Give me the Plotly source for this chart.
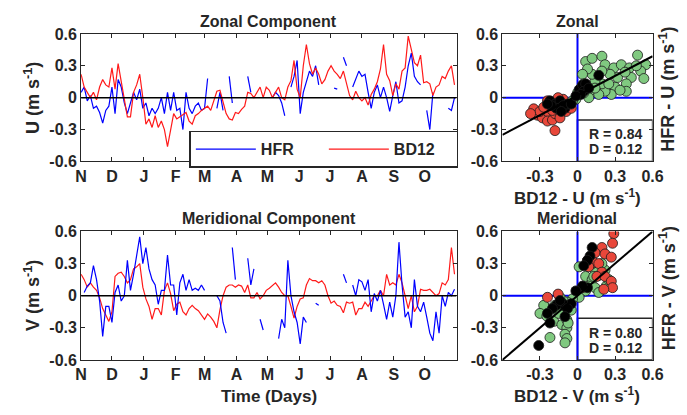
import plotly.graph_objects as go

W, H = 687, 415

# ---------------- data ----------------
DAYS = list(range(0, 366, 3))  # sampling days since 1 Nov

BD12_U = [0.22, 0.10, 0.05, 0.0, 0.05, -0.02, 0.10, 0.17, 0.12, 0.10, 0.28, 0.08, 0.32, 0.15, -0.05, -0.18, -0.18, 0.05, 0.12, 0.22, 0.0,
          -0.25, -0.2, -0.28, -0.17, -0.28, -0.22, -0.3, -0.46, -0.3, -0.15, -0.2, -0.18, -0.16, -0.14, -0.22, -0.25, -0.17, -0.15, -0.12, -0.1,
          -0.08, -0.12, -0.02, 0.06, 0.07, -0.05, -0.15, -0.2, -0.21, -0.14, -0.15, -0.11, -0.08, 0.05, 0.04, 0.0, 0.05, 0.1, 0.0, 0.1,
          0.07, 0.0, 0.05, 0.1, 0.0, -0.02, 0.1, 0.16, 0.35, 0.08, 0.0, 0.3, 0.5, 0.32, 0.22, 0.28, 0.22, 0.13, 0.17, 0.25, 0.3,
          0.25, 0.22, 0.18, 0.25, 0.12, 0.02, -0.02, 0.06, 0.0, -0.03, 0.0, -0.07, 0.03, 0.08, 0.15, 0.27, 0.5, 0.22, 0.16, 0.02,
          0.13, 0.08, 0.25, 0.28, 0.58, 0.45, 0.33, 0.3, 0.4, 0.14, 0.15, 0.13, 0.02, 0.1, 0.12, 0.2, 0.18, 0.25, 0.3, 0.12]

HFR_U = [0.05, 0.1, -0.03, 0.02, -0.1, -0.08, -0.14, -0.24, -0.12, -0.08, 0.1, -0.15, 0.17, 0.1, -0.05, -0.15, -0.05, 0.05, -0.02, 0.08, -0.1,
         -0.05, -0.17, -0.1, -0.15, -0.1, 0.0, -0.15, 0.05, -0.12, 0.05, -0.12, -0.1, -0.3, 0.05, -0.1, -0.15, -0.08, -0.05, -0.12, -0.1,
         0.18, None, None, -0.1, 0.05, -0.12, None, 0.2, -0.05, None, None, None, None, 0.2, 0.05, None, None, None, None, None,
         None, 0.0, 0.05, 0.02, -0.05, -0.17, None, 0.1, 0.2, 0.35, -0.15, 0.05, 0.15, 0.25, 0.2, 0.3, 0.12, None, None, None, None,
         0.09, 0.08, None, 0.38, 0.3, None, 0.1, 0.18, 0.25, 0.2, 0.22, 0.05, -0.1, 0.05, 0.12, 0.0, 0.1, 0.0, -0.13, 0.02,
         0.15, -0.05, -0.03, 0.1, 0.3, 0.42, 0.2, 0.15, 0.12, None, -0.12, -0.3, 0.05, None, None, None, None, -0.1, -0.12, 0.0]

BD12_V = [0.2, 0.15, 0.08, 0.12, 0.08, 0.05, -0.02, -0.12, -0.18, -0.24, -0.15, 0.18, 0.21, 0.22, 0.18, 0.12, 0.15, 0.25, 0.27, 0.3, 0.08,
          -0.03, -0.1, -0.22, -0.12, -0.12, -0.18, 0.05, 0.12, 0.02, -0.14, -0.08, -0.06, -0.15, -0.18, -0.12, -0.09, -0.12, -0.14, -0.18, -0.22,
          -0.17, -0.2, -0.24, -0.3, -0.13, 0.0, 0.08, 0.1, 0.1, 0.08, 0.1, 0.09, 0.03, 0.1, -0.02, -0.02, 0.03, -0.03, 0.0, 0.05,
          0.07, 0.1, 0.12, 0.08, 0.03, 0.0, 0.0, -0.1, -0.21, -0.1, -0.03, -0.02, 0.1, 0.16, 0.14, 0.14, 0.12, 0.14, 0.1, 0.0, -0.07,
          -0.05, -0.09, -0.1, -0.16, -0.06, -0.07, -0.06, -0.18, -0.12, -0.12, -0.06, -0.1, -0.05, 0.0, 0.0, 0.05, 0.0, 0.2, 0.1, 0.12,
          0.1, 0.2, 0.12, 0.0, -0.12, 0.0, -0.15, -0.1, 0.06, 0.05, 0.05, 0.06, 0.03, 0.0, 0.02, 0.12, 0.1, 0.15, 0.45, 0.2]

HFR_V = [None, 0.03, 0.09, 0.12, 0.28, 0.15, -0.05, -0.38, -0.1, -0.1, -0.25, 0.03, 0.1, -0.05, 0.0, 0.33, 0.05, 0.2, 0.38, 0.55, 0.3,
         0.45, 0.25, 0.15, 0.1, -0.08, 0.05, 0.05, 0.38, 0.1, 0.1, -0.18, 0.12, 0.2, 0.05, 0.15, 0.05, 0.07, 0.05, 0.1, 0.05,
         None, None, None, 0.0, -0.05, -0.25, -0.35, None, 0.45, 0.15, None, None, None, 0.35, 0.1, 0.25, None, -0.22, -0.32, None,
         None, None, None, -0.4, -0.22, -0.3, 0.33, 0.0, -0.15, -0.25, -0.45, -0.2, -0.25, None, None, -0.07, -0.09, None, None, None, None,
         None, None, None, 0.2, 0.12, None, 0.1, 0.0, 0.15, 0.13, 0.05, 0.15, -0.15, 0.02, -0.05, 0.05, -0.08, -0.22, -0.06, -0.2,
         0.0, 0.5, 0.1, -0.2, -0.15, -0.3, 0.15, -0.1, -0.15, -0.06, -0.2, -0.35, -0.42, -0.15, -0.35, 0.0, -0.1, 0.03, 0.0, 0.06]

MONTH_DAYS = [0, 30, 61, 92, 120, 151, 181, 212, 242, 273, 304, 334]
MONTH_LABELS = ["N", "D", "J", "F", "M", "A", "M", "J", "J", "A", "S", "O"]

# Zonal scatter (BD12 U, HFR U)
ZU_GREEN_X = [0.065, 0.117, 0.195, 0.22, 0.29, 0.35, 0.415, 0.48, 0.545, 0.505, 0.53, 0.43, 0.39, 0.30, 0.27, 0.22, 0.195, 0.14, 0.117,
              0.08, 0.04, 0.05, 0.026, 0.0, -0.013, -0.04, 0.10, 0.17, 0.14, 0.25, 0.32, 0.38, 0.26, 0.47, 0.09, 0.05, 0.39, 0.195, 0.34]
ZU_GREEN_Y = [0.34, 0.37, 0.39, 0.31, 0.28, 0.31, 0.28, 0.40, 0.31, 0.25, 0.18, 0.19, 0.13, 0.10, 0.03, 0.06, 0.13, 0.16, 0.22,
              0.27, 0.22, 0.13, 0.09, 0.045, -0.015, -0.03, 0.06, 0.03, 0.09, 0.13, 0.19, 0.24, 0.22, 0.30, 0.0, 0.045, 0.06, 0.25, 0.07]
ZU_RED_X = [-0.35, -0.32, -0.28, -0.24, -0.24, -0.20, -0.18, -0.22, -0.17, -0.13, -0.09, -0.08, -0.115, -0.24, -0.30, -0.18, -0.14,
            -0.20, -0.27, -0.05, -0.155, -0.375]
ZU_RED_Y = [-0.105, -0.165, -0.19, -0.13, -0.22, -0.21, -0.31, -0.07, -0.04, -0.07, -0.13, -0.06, -0.015, -0.03, -0.13, -0.15, -0.19,
            -0.12, -0.09, -0.10, 0.0, -0.15]
ZU_BLACK_X = [-0.22, -0.18, -0.14, -0.10, -0.08, -0.115, -0.05, -0.17, -0.21, 0.013, 0.04, 0.065, 0.05, 0.09, 0.17, 0.026, -0.013, -0.13, -0.24]
ZU_BLACK_Y = [-0.03, -0.06, -0.03, -0.10, -0.06, -0.075, -0.06, -0.10, -0.075, 0.075, 0.12, 0.13, 0.06, 0.09, 0.21, 0.03, 0.015, -0.13, -0.06]
ZU_FIT_X = [-0.6, 0.6]
ZU_FIT_Y = [-0.35, 0.39]

# Meridional scatter (BD12 V, HFR V)
MV_GREEN_X = [0.013, 0.065, 0.117, 0.17, 0.22, 0.195, 0.09, 0.14, 0.23, 0.17, 0.065, 0.013, -0.04, -0.08, -0.115, -0.14, -0.18, -0.24,
              -0.27, -0.30, -0.245, -0.19, -0.22, -0.125, -0.085, -0.085, -0.10, -0.085, -0.10, -0.075, -0.05, -0.125, -0.15, 0.14, 0.12, 0.25, 0.13]
MV_GREEN_Y = [0.27, 0.18, 0.15, 0.19, 0.24, 0.30, 0.09, 0.075, 0.09, 0.03, 0.045, -0.015, -0.03, -0.06, -0.045, -0.015, -0.09, -0.12,
              -0.09, -0.165, -0.19, -0.24, -0.39, -0.27, -0.225, -0.30, -0.36, -0.40, -0.44, -0.255, -0.135, -0.135, -0.165, 0.24, 0.30, 0.15, 0.18]
MV_RED_X = [0.29, 0.28, 0.195, 0.14, 0.22, 0.27, 0.08, 0.13, 0.17, 0.195, 0.155, 0.22, 0.27, 0.28, 0.21, 0.09, -0.155, -0.24, 0.04]
MV_RED_Y = [0.58, 0.49, 0.45, 0.40, 0.39, 0.36, 0.33, 0.31, 0.30, 0.22, 0.18, 0.18, 0.135, 0.075, 0.06, 0.27, 0.015, -0.015, 0.075]
MV_BLACK_X = [0.117, 0.10, 0.08, 0.05, 0.08, 0.04, -0.013, -0.05, -0.115, -0.17, -0.20, -0.24, -0.22, -0.08, -0.10, -0.31, -0.14]
MV_BLACK_Y = [0.45, 0.37, 0.33, 0.28, 0.075, 0.09, 0.045, -0.075, -0.075, -0.09, -0.12, -0.165, -0.255, -0.12, -0.195, -0.465, -0.045]
MV_FIT_X = [-0.6, 0.6]
MV_FIT_Y = [-0.6, 0.6]

STATS_U = ["R = 0.84", "D = 0.12"]
STATS_V = ["R = 0.80", "D = 0.12"]

# ---------------- styling ----------------
TXT = "#262626"
FONT = "Liberation Sans, Arial, sans-serif"
BLUE = "#0000FF"
RED = "#FF1A1A"
SC_RED = "#E8473A"
SC_GREEN = "#80C980"


def fx(p):
    return p / W


def fy(p):
    return 1 - p / H


L0, L1 = 77, 462
R0, R1 = 509, 663
T0, T1 = 27, 160
B0, B1 = 233, 367

fig = go.Figure()

# time series, top (U)
fig.add_trace(go.Scatter(x=DAYS, y=HFR_U, mode="lines", name="HFR", line=dict(color=BLUE, width=1.2),
                         connectgaps=False, xaxis="x", yaxis="y"))
fig.add_trace(go.Scatter(x=DAYS, y=BD12_U, mode="lines", name="BD12", line=dict(color=RED, width=1.2),
                         xaxis="x", yaxis="y"))
# time series, bottom (V)
fig.add_trace(go.Scatter(x=DAYS, y=BD12_V, mode="lines", name="BD12", line=dict(color=RED, width=1.2),
                         showlegend=False, xaxis="x3", yaxis="y3"))
fig.add_trace(go.Scatter(x=DAYS, y=HFR_V, mode="lines", name="HFR", line=dict(color=BLUE, width=1.2),
                         connectgaps=False, showlegend=False, xaxis="x3", yaxis="y3"))

mk = dict(size=10, line=dict(color="#1a1a1a", width=0.8))
for xs, ys, col, xa, ya in [
    (ZU_RED_X, ZU_RED_Y, SC_RED, "x2", "y2"),
    (ZU_GREEN_X, ZU_GREEN_Y, SC_GREEN, "x2", "y2"),
    (ZU_BLACK_X, ZU_BLACK_Y, "#000000", "x2", "y2"),
    (MV_GREEN_X, MV_GREEN_Y, SC_GREEN, "x4", "y4"),
    (MV_RED_X, MV_RED_Y, SC_RED, "x4", "y4"),
    (MV_BLACK_X, MV_BLACK_Y, "#000000", "x4", "y4"),
]:
    fig.add_trace(go.Scatter(x=xs, y=ys, mode="markers", showlegend=False,
                             marker=dict(color=col, **mk), xaxis=xa, yaxis=ya))

fig.add_trace(go.Scatter(x=ZU_FIT_X, y=ZU_FIT_Y, mode="lines", showlegend=False,
                         line=dict(color="black", width=2), xaxis="x2", yaxis="y2"))
fig.add_trace(go.Scatter(x=MV_FIT_X, y=MV_FIT_Y, mode="lines", showlegend=False,
                         line=dict(color="black", width=2), xaxis="x4", yaxis="y4"))

tickfont = dict(family=FONT, size=16, color=TXT, weight="bold")
base_axis = dict(showline=True, linecolor=TXT, linewidth=1, mirror="ticks", ticks="inside",
                 ticklen=4, tickcolor=TXT, showgrid=False, zeroline=False, tickfont=tickfont, fixedrange=True)

yvals = [-0.6, -0.3, 0, 0.3, 0.6]
ytext = ["-0.6", "-0.3", "0", "0.3", "0.6"]

fig.update_layout(
    width=W, height=H, margin=dict(l=0, r=0, t=0, b=0),
    paper_bgcolor="white", plot_bgcolor="white",
    font=dict(family=FONT, color=TXT),
    xaxis=dict(base_axis, domain=[fx(L0), fx(L1)], range=[0, 365], tickvals=MONTH_DAYS, ticktext=MONTH_LABELS, anchor="y"),
    yaxis=dict(base_axis, domain=[fy(T1), fy(T0)], range=[-0.6, 0.6], tickvals=yvals, ticktext=ytext, anchor="x"),
    xaxis2=dict(base_axis, domain=[fx(R0), fx(R1)], range=[-0.6, 0.6], tickvals=[-0.3, 0, 0.3, 0.6],
                ticktext=["-0.3", "0", "0.3", "0.6"], anchor="y2"),
    yaxis2=dict(base_axis, domain=[fy(T1), fy(T0)], range=[-0.6, 0.6], tickvals=yvals, ticktext=ytext, anchor="x2"),
    xaxis3=dict(base_axis, domain=[fx(L0), fx(L1)], range=[0, 365], tickvals=MONTH_DAYS, ticktext=MONTH_LABELS, anchor="y3"),
    yaxis3=dict(base_axis, domain=[fy(B1), fy(B0)], range=[-0.6, 0.6], tickvals=yvals, ticktext=ytext, anchor="x3"),
    xaxis4=dict(base_axis, domain=[fx(R0), fx(R1)], range=[-0.6, 0.6], tickvals=[-0.3, 0, 0.3, 0.6],
                ticktext=["-0.3", "0", "0.3", "0.6"], anchor="y4"),
    yaxis4=dict(base_axis, domain=[fy(B1), fy(B0)], range=[-0.6, 0.6], tickvals=yvals, ticktext=ytext, anchor="x4"),
    showlegend=True,
    legend=dict(orientation="h", x=fx(188), y=fy(128), xanchor="left", yanchor="top",
                bgcolor="white", bordercolor=TXT, borderwidth=1.5,
                font=dict(family=FONT, size=16, color=TXT, weight="bold"),
                itemwidth=60, entrywidth=58, traceorder="normal"),
)

shapes = []
# zero lines in time series
for xa, ya in [("x", "y"), ("x3", "y3")]:
    shapes.append(dict(type="line", xref=xa, yref=ya, x0=0, x1=365, y0=0, y1=0,
                       line=dict(color="black", width=1.5), layer="above"))
# stats boxes and blue cross lines in scatter
for xa, ya in [("x2", "y2"), ("x4", "y4")]:
    shapes.append(dict(type="rect", xref=xa, yref=ya, x0=0, x1=0.6, y0=-0.6, y1=-0.21,
                       line=dict(color=TXT, width=1.5), fillcolor="white", layer="below"))
    shapes.append(dict(type="line", xref=xa, yref=ya, x0=0, x1=0, y0=-0.6, y1=0.6,
                       line=dict(color=BLUE, width=2), layer="below"))
    shapes.append(dict(type="line", xref=xa, yref=ya, x0=-0.6, x1=0.6, y0=0, y1=0,
                       line=dict(color=BLUE, width=2), layer="below"))
fig.update_layout(shapes=shapes)

ann = []


def text(x, y, s, size, angle=0):
    ann.append(dict(x=fx(x), y=fy(y), xref="paper", yref="paper", text=s, showarrow=False,
                    textangle=angle, xanchor="center", yanchor="middle",
                    font=dict(family=FONT, size=size, color=TXT, weight="bold")))


text((L0 + L1) / 2, 14, "Zonal Component", 16)
text((R0 + R1) / 2, 14, "Zonal", 16)
text((L0 + L1) / 2, 220, "Meridional Component", 16)
text((R0 + R1) / 2, 220, "Meridional", 16)
text(27, (T0 + T1) / 2, "U (m s<sup>-1</sup>)", 18, -90)
text(27, (B0 + B1) / 2, "V (m s<sup>-1</sup>)", 18, -90)
text(678, 85, "HFR - U (m s<sup>-1</sup>)", 18, -90)
text(678, 292, "HFR - V (m s<sup>-1</sup>)", 18, -90)
text((R0 + R1) / 2, 197, "BD12 - U (m s<sup>-1</sup>)", 17)
text((R0 + R1) / 2, 404, "BD12 - V (m s<sup>-1</sup>)", 17)
text((L0 + L1) / 2, 405, "Time (Days)", 17)
text(625, 131, STATS_U[0], 14)
text(625, 147, STATS_U[1], 14)
text(625, 339, STATS_V[0], 14)
text(625, 355, STATS_V[1], 14)
fig.update_layout(annotations=ann)

fig.write_html("out.html")
